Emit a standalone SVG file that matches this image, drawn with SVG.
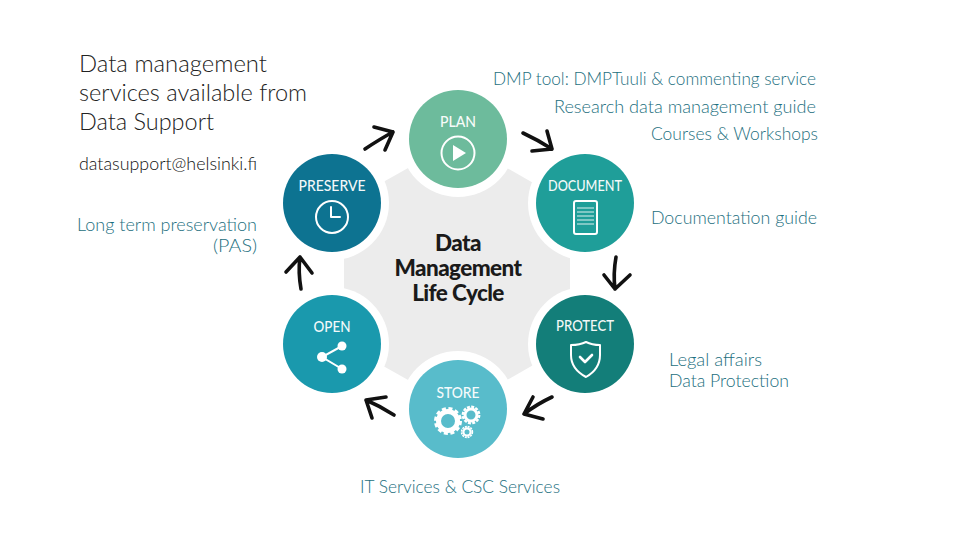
<svg xmlns="http://www.w3.org/2000/svg" width="960" height="540" viewBox="0 0 960 540">
<style>
text{font-family:"Lato","Liberation Sans",sans-serif}
.h{font-size:23.6px;font-weight:300;fill:#222}
.m{font-size:18px;font-weight:300;fill:#1d6f80}
.e{font-size:17.5px;font-weight:300;fill:#111}
.r{text-anchor:end}
.l{font-size:15px;font-weight:500;fill:#fff;text-anchor:middle;opacity:.95}
.c{font-size:22.5px;font-weight:900;fill:#1a1a1a;text-anchor:middle;letter-spacing:-.6px}
.i{fill:none;stroke:#fff;stroke-width:2;stroke-linecap:round;stroke-linejoin:round}
.ring{fill:#fff}
.a{fill:none;stroke:#111;stroke-width:3.6;stroke-linecap:round;stroke-linejoin:round}
</style>
<rect width="960" height="540" fill="#fff"/>
<g id="hub">
<polygon points="458,140 570,204 570,344 458,408 344,344 344,204" fill="#ececec"/>
<circle class="ring" cx="458" cy="139" r="58"/><circle class="ring" cx="585" cy="203" r="57"/><circle class="ring" cx="585" cy="344" r="57"/><circle class="ring" cx="458" cy="409" r="58"/><circle class="ring" cx="332" cy="344" r="57"/><circle class="ring" cx="332" cy="203" r="57"/>
<text class="c" x="458" y="251">Data</text><text class="c" x="458" y="276">Management</text><text class="c" x="458" y="301">Life Cycle</text>
</g>
<g id="connectors">
<path class="a" d="M365 149Q380 139 393 132M374 127L393 132L385 150"/>
<path class="a" d="M523 133Q538 140 552 149M547 131L552 149L532 151"/>
<path class="a" d="M616 257Q613 274 615 289M604 275L615 289L630 275"/>
<path class="a" d="M552 397Q537 404 524 414M533 397L524 414L543 419"/>
<path class="a" d="M394 415Q380 406 366 400M386 397L366 400L372 418"/>
<path class="a" d="M301 289Q298 272 300 257M286 272L300 257L312 273"/>
</g>
<g id="plan"><circle cx="458" cy="139" r="49" fill="#6dbb9c"/><text class="l" x="458" y="127" textLength="36" lengthAdjust="spacingAndGlyphs">PLAN</text><circle class="i" cx="458" cy="153" r="16.5"/><polygon points="453,145 466,153 453,161" fill="#fff"/></g>
<g id="document"><circle cx="585" cy="203" r="49" fill="#1f9e99"/><text class="l" x="585" y="191" textLength="74" lengthAdjust="spacingAndGlyphs">DOCUMENT</text><rect class="i" x="574" y="201" width="23" height="33" rx="2"/><path d="M577 208H594M577 212H594M577 216H594M577 220H594M577 224H594" stroke="#fff" stroke-width="1.2" fill="none" opacity=".85"/></g>
<g id="protect"><circle cx="585" cy="344" r="49" fill="#137e79"/><text class="l" x="585" y="331" textLength="58" lengthAdjust="spacingAndGlyphs">PROTECT</text><path class="i" d="M571 345Q580 345 586 342Q592 345 600 345V355Q600 369 586 377Q571 369 571 355Z" stroke-width="1.6"/><path d="M580 357L585 362L592 355" fill="none" stroke="#fff" stroke-width="2.6" stroke-linecap="round" stroke-linejoin="round"/></g>
<g id="store"><circle cx="458" cy="409" r="49" fill="#58bccb"/><text class="l" x="458" y="398" textLength="43" lengthAdjust="spacingAndGlyphs">STORE</text>
<circle cx="448" cy="421" r="9.5" fill="none" stroke="#fff" stroke-width="5"/><circle cx="448" cy="421" r="12.5" fill="none" stroke="#fff" stroke-width="3" stroke-dasharray="4 2.55"/>
<circle cx="471" cy="415" r="6" fill="none" stroke="#fff" stroke-width="3"/><circle cx="471" cy="415" r="8.3" fill="none" stroke="#fff" stroke-width="2.2" stroke-dasharray="3 1.34"/>
<circle cx="467" cy="432" r="3.6" fill="none" stroke="#fff" stroke-width="2.2"/><circle cx="467" cy="432" r="5.4" fill="none" stroke="#fff" stroke-width="1.6" stroke-dasharray="2 .83"/></g>
<g id="open"><circle cx="332" cy="344" r="49" fill="#1a99ad"/><text class="l" x="332" y="332" textLength="37" lengthAdjust="spacingAndGlyphs">OPEN</text><path d="M342 346L322 357L342 369" fill="none" stroke="#fff" stroke-width="2"/><circle cx="342" cy="346" r="4.5" fill="#fff"/><circle cx="322" cy="357" r="5" fill="#fff"/><circle cx="342" cy="369" r="4.5" fill="#fff"/></g>
<g id="preserve"><circle cx="332" cy="203" r="49" fill="#0d7391"/><text class="l" x="332" y="191" textLength="67" lengthAdjust="spacingAndGlyphs">PRESERVE</text><circle class="i" cx="332" cy="217" r="16"/><path class="i" d="M331 207V217H340" stroke-width="1.8"/></g>
<g id="info-left">
<text class="h" x="79" y="72" textLength="188" lengthAdjust="spacingAndGlyphs">Data management</text><text class="h" x="79" y="101" textLength="228" lengthAdjust="spacingAndGlyphs">services available from</text><text class="h" x="79" y="130" textLength="135" lengthAdjust="spacingAndGlyphs">Data Support</text>
<text class="e" x="79" y="170" textLength="178" lengthAdjust="spacingAndGlyphs">datasupport@helsinki.fi</text>
<text class="m r" x="257" y="231">Long term preservation</text><text class="m r" x="257" y="252" textLength="44" lengthAdjust="spacingAndGlyphs">(PAS)</text>
</g>
<g id="info-right">
<text class="m r" x="816" y="85" textLength="323" lengthAdjust="spacingAndGlyphs">DMP tool: DMPTuuli &amp; commenting service</text>
<text class="m r" x="816" y="113" textLength="262" lengthAdjust="spacingAndGlyphs">Research data management guide</text>
<text class="m r" x="818" y="140" textLength="167" lengthAdjust="spacingAndGlyphs">Courses &amp; Workshops</text>
<text class="m r" x="817" y="224" textLength="166" lengthAdjust="spacingAndGlyphs">Documentation guide</text>
<text class="m" x="669" y="366" textLength="93" lengthAdjust="spacingAndGlyphs">Legal affairs</text><text class="m" x="669" y="387" textLength="120" lengthAdjust="spacingAndGlyphs">Data Protection</text>
<text class="m" x="360" y="493" textLength="200" lengthAdjust="spacingAndGlyphs">IT Services &amp; CSC Services</text>
</g>
</svg>
